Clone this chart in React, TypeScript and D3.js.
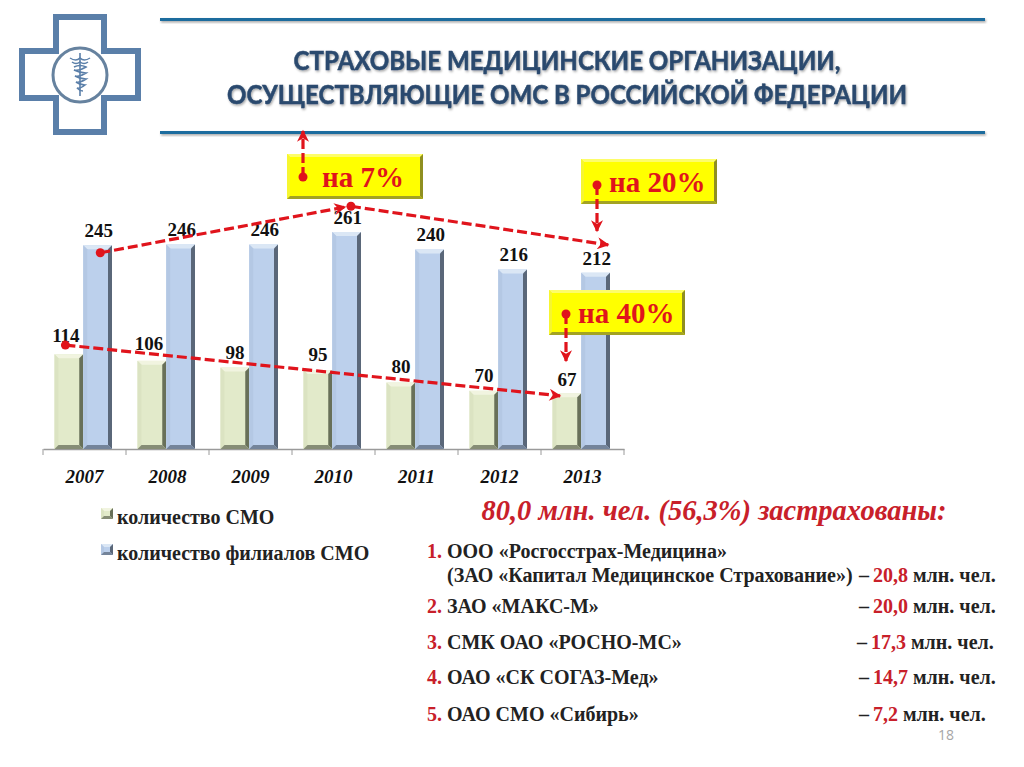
import * as d3 from 'd3';
import { useEffect, useRef } from 'react';

const years = ['2007', '2008', '2009', '2010', '2011', '2012', '2013'];
const smoCount = [114, 106, 98, 95, 80, 70, 67];
const branchCount = [245, 246, 246, 261, 240, 216, 212];

// trend arrows, in [year, value] terms
const branchRise = [[2007.19, 236], [2010.14, 291]];
const branchFall = [[2010.21, 292], [2013.31, 245.5]];
const smoFall = [[2006.77, 125], [2012.73, 64]];

const titleLines = [
  'СТРАХОВЫЕ МЕДИЦИНСКИЕ ОРГАНИЗАЦИИ,',
  'ОСУЩЕСТВЛЯЮЩИЕ ОМС В РОССИЙСКОЙ ФЕДЕРАЦИИ',
];
const titleWidths = [547, 680];
const insurers = [
  'ООО «Росгосстрах-Медицина»',
  'ЗАО «МАКС-М»',
  'СМК ОАО «РОСНО-МС»',
  'ОАО «СК СОГАЗ-Мед»',
  'ОАО СМО «Сибирь»',
];
const insured = ['20,8', '20,0', '17,3', '14,7', '7,2'];

const WIDTH = 1024;
const HEIGHT = 767;
const RED = '#e0141c';
const SERIF = '"Liberation Serif", serif';

const greenBar = { face: '#e2eaca', top: '#f1f4e0', left: '#dbe3c2', right: '#687059', bottom: '#868d76' };
const blueBar = { face: '#bcd0ec', top: '#dbe7f5', left: '#b4c8e4', right: '#5a6779', bottom: '#74849a' };
const yellowBox = { face: '#ffff00', top: '#fdfd6a', left: '#f6f630', right: '#8f8f20', bottom: '#a3a322' };

export default function App() {
  const ref = useRef<SVGSVGElement>(null);

  useEffect(() => {
    const svg = d3.select(ref.current);
    svg.selectAll('*').remove();

    const x = d3.scaleBand().domain(years).range([43, 624]);
    const inner = d3.scaleBand().domain(['smo', 'branch']).range([11.5, 69]);
    const y = d3.scaleLinear().domain([0, 261]).range([449, 232]);
    const xYear = d3.scaleLinear().domain([2007, 2013]).range([84.5, 582.5]);

    const defs = svg.append('defs');
    const shadow = defs.append('filter').attr('id', 'soft').attr('x', '-10%').attr('y', '-50%')
      .attr('width', '120%').attr('height', '250%');
    shadow.append('feDropShadow').attr('dx', 1).attr('dy', 1.5).attr('stdDeviation', 1.2)
      .attr('flood-color', '#000').attr('flood-opacity', 0.35);

    const arrow = defs.append('marker').attr('id', 'arrow').attr('viewBox', '0 0 10 10')
      .attr('refX', 9).attr('refY', 5).attr('markerWidth', 16).attr('markerHeight', 12)
      .attr('markerUnits', 'userSpaceOnUse').attr('orient', 'auto');
    arrow.append('path').attr('d', 'M0,0L10,5L0,10L3,5Z').attr('fill', RED);

    // logo
    const logo = svg.append('g').attr('fill', 'none').attr('stroke', '#5a7fa9');
    logo.append('path')
      .attr('d', 'M56,17H104V51H138V98H104V132H56V98H22V51H56Z')
      .attr('stroke-width', 6);
    logo.append('circle').attr('cx', 80).attr('cy', 75).attr('r', 27).attr('stroke-width', 3).attr('stroke', '#66829f');
    logo.append('path').attr('d', 'M80,53V96').attr('stroke-width', 1.6);
    logo.append('path').attr('d', 'M70,58Q76,62 80,58Q84,62 90,58M72,62Q76,65 80,62Q84,65 88,62').attr('stroke-width', 1.5);
    logo.append('path')
      .attr('d', 'M74,67Q80,64 86,67Q80,71 74,70Q80,73 86,73Q80,77 75,76Q80,79 86,79Q80,83 76,82Q80,85 85,85Q80,89 77,88Q80,91 83,91')
      .attr('stroke-width', 1.6);

    // title block
    [18, 131].forEach((lineY) => {
      svg.append('rect').attr('x', 160).attr('width', 825).attr('y', lineY).attr('height', 3)
        .attr('fill', '#1f6c9e').attr('filter', 'url(#soft)');
    });
    svg.append('g').selectAll('text').data(titleLines).join('text')
      .attr('x', (_, i) => 567 - titleWidths[i] / 2)
      .attr('y', (_, i) => 70 + i * 34)
      .attr('textLength', (_, i) => titleWidths[i])
      .attr('lengthAdjust', 'spacingAndGlyphs')
      .attr('filter', 'url(#soft)')
      .style('font-family', 'Lato, sans-serif')
      .style('font-weight', 700)
      .style('font-size', '26px')
      .style('fill', '#2b4a6e')
      .style('stroke', '#2b4a6e')
      .style('stroke-width', '0.5px')
      .text((d) => d);

    // axis
    const axis = svg.append('g').attr('transform', 'translate(0,449)')
      .call(d3.axisBottom(x).tickSizeOuter(0).tickSize(0).tickFormat(() => ''));
    axis.select('.domain').attr('stroke', '#9a9a9a').attr('stroke-width', 1.5);
    axis.selectAll('.tick').remove();
    svg.append('g').selectAll('line').data(d3.range(years.length + 1)).join('line')
      .attr('x1', (i) => 43 + i * x.step())
      .attr('x2', (i) => 43 + i * x.step())
      .attr('y1', 449)
      .attr('y2', 455)
      .attr('stroke', '#9a9a9a');
    svg.append('g').selectAll('text').data(years).join('text')
      .attr('x', (d) => (x(d) as number) + x.bandwidth() / 2)
      .attr('y', 483)
      .attr('text-anchor', 'middle')
      .style('font-family', SERIF)
      .style('font-style', 'italic')
      .style('font-weight', 700)
      .style('font-size', '19px')
      .style('fill', '#111')
      .text((d) => d);

    // bevelled bars
    const drawBar = (g: any, left: number, right: number, top: number, bottom: number, c: typeof greenBar, bevel = 4) => {
      const b = Math.min(bevel, (bottom - top) / 2);
      g.append('rect').attr('x', left).attr('y', top).attr('width', right - left).attr('height', bottom - top).attr('fill', c.face);
      g.append('polygon').attr('fill', c.top)
        .attr('points', `${left},${top} ${right},${top} ${right - b},${top + b} ${left + b},${top + b}`);
      g.append('polygon').attr('fill', c.left)
        .attr('points', `${left},${top} ${left + b},${top + b} ${left + b},${bottom - b} ${left},${bottom}`);
      g.append('polygon').attr('fill', c.right)
        .attr('points', `${right},${top} ${right - b},${top + b} ${right - b},${bottom - b} ${right},${bottom}`);
      g.append('polygon').attr('fill', c.bottom)
        .attr('points', `${left},${bottom} ${left + b},${bottom - b} ${right - b},${bottom - b} ${right},${bottom}`);
    };

    const labelStyle = (sel: any) => sel
      .attr('text-anchor', 'middle')
      .style('font-family', SERIF)
      .style('font-weight', 700)
      .style('font-size', '19px')
      .style('fill', '#111');

    const smoNudge = [[-3, -3], [-3, -2], [0, 0], [0, 0], [0, 0], [0, 0], [0, 2]];
    years.forEach((year, i) => {
      const x0 = x(year) as number;
      const g = svg.append('g');
      const smoX = x0 + (inner('smo') as number);
      const branchX = x0 + (inner('branch') as number);
      drawBar(g, smoX, smoX + inner.bandwidth(), y(smoCount[i]), y(0), greenBar);
      drawBar(g, branchX, branchX + inner.bandwidth(), y(branchCount[i]), y(0), blueBar);
      g.append('text').attr('x', smoX + inner.bandwidth() / 2 + smoNudge[i][0]).attr('y', y(smoCount[i]) - 9 + smoNudge[i][1])
        .call(labelStyle).text(smoCount[i]);
      g.append('text').attr('x', branchX + inner.bandwidth() / 2 + 1).attr('y', y(branchCount[i]) - 8)
        .call(labelStyle).text(branchCount[i]);
    });

    // legend
    const legendItems = [
      { label: 'количество СМО', colors: greenBar },
      { label: 'количество филиалов СМО', colors: blueBar },
    ];
    legendItems.forEach((item, i) => {
      const top = 508 + i * 36;
      const g = svg.append('g');
      drawBar(g, 101, 113, top, top + 11, item.colors, 3);
      g.append('text').attr('x', 117).attr('y', top + 16)
        .style('font-family', SERIF).style('font-weight', 700).style('font-size', '20px')
        .style('fill', '#222')
        .text(item.label);
    });

    // trend arrows
    const trendLine = d3.line<number[]>().x((d) => xYear(d[0])).y((d) => y(d[1]));
    const dashed = (sel: any) => sel.attr('fill', 'none').attr('stroke', RED).attr('stroke-width', 3.2)
      .attr('stroke-dasharray', '10 4').attr('marker-end', 'url(#arrow)');
    [branchRise, branchFall, smoFall].forEach((points) => {
      svg.append('path').attr('d', trendLine(points)).call(dashed);
      svg.append('circle').attr('cx', xYear(points[0][0])).attr('cy', y(points[0][1])).attr('r', 4.5).attr('fill', RED);
    });

    // yellow callouts
    const callouts = [
      { label: 'на 7%', left: 287, top: 154, arrowX: 303, arrowFrom: 177, arrowTo: 131, textX: 322 },
      { label: 'на 20%', left: 581, top: 159, arrowX: 597, arrowFrom: 185, arrowTo: 231, textX: 609 },
      { label: 'на 40%', left: 549, top: 290, arrowX: 566, arrowFrom: 314, arrowTo: 361, textX: 578 },
    ];
    callouts.forEach((c) => {
      const g = svg.append('g');
      drawBar(g, c.left, c.left + 136, c.top, c.top + 45, yellowBox, 3);
      g.append('text').attr('x', c.textX).attr('y', c.top + 33)
        .style('font-family', SERIF).style('font-weight', 700).style('font-size', '29px')
        .style('fill', RED).text(c.label);
      g.append('line').attr('x1', c.arrowX).attr('x2', c.arrowX).attr('y1', c.arrowFrom).attr('y2', c.arrowTo).call(dashed);
      g.append('circle').attr('cx', c.arrowX).attr('cy', c.arrowFrom).attr('r', 4.5).attr('fill', RED);
    });

    // insurers panel
    svg.append('text').attr('x', 714).attr('y', 520).attr('text-anchor', 'middle')
      .style('font-family', SERIF).style('font-style', 'italic').style('font-weight', 700)
      .style('font-size', '28.5px').style('fill', '#c8202a')
      .text('80,0 млн. чел. (56,3%) застрахованы:');

    const rowY = [558, 613, 649, 684, 721];
    const dashX = [859, 859, 857, 859, 859];
    const rowText = (sel: any) => sel
      .style('font-family', SERIF).style('font-weight', 700).style('font-size', '20px').style('fill', '#222');

    insurers.forEach((name, i) => {
      const g = svg.append('g');
      g.append('text').attr('x', 427).attr('y', rowY[i]).call(rowText).style('fill', '#c8202a').text(`${i + 1}.`);
      g.append('text').attr('x', 447).attr('y', rowY[i]).call(rowText).text(name);
      const vy = i === 0 ? 582 : rowY[i];
      g.append('text').attr('x', dashX[i]).attr('y', vy).call(rowText).text('–');
      const value = g.append('text').attr('x', dashX[i] + 14).attr('y', vy).call(rowText);
      value.append('tspan').style('fill', '#c8202a').text(insured[i]);
      value.append('tspan').attr('dx', 5).text('млн. чел.');
    });
    svg.append('text').attr('x', 447).attr('y', 582).call(rowText).text('(ЗАО «Капитал Медицинское Страхование»)');

    svg.append('text').attr('x', 946).attr('y', 740).attr('text-anchor', 'middle')
      .style('font-family', '"Open Sans", sans-serif').style('font-size', '14px').style('fill', '#a6a6a6').text('18');
  }, []);

  return (
    <svg
      ref={ref}
      width={WIDTH}
      height={HEIGHT}
      viewBox={`0 0 ${WIDTH} ${HEIGHT}`}
      style={{ position: 'absolute', left: 0, top: 0, background: '#fff' }}
    />
  );
}
